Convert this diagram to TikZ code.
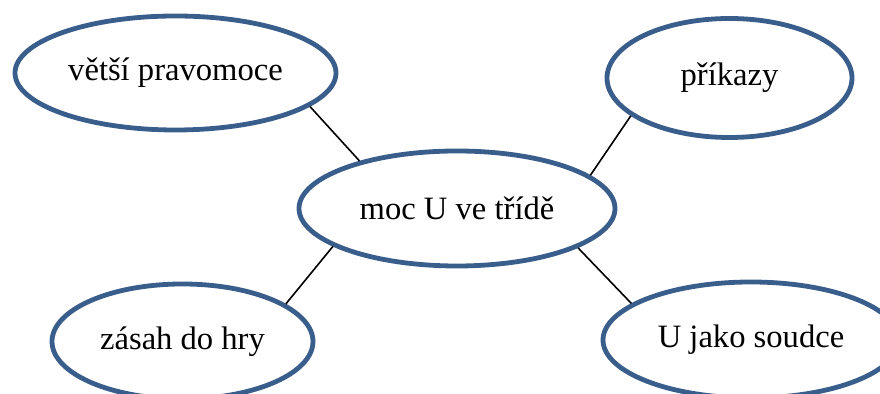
\documentclass[tikz,border=0pt]{standalone}
\usepackage{fontspec}
\setmainfont{Liberation Serif}
\usetikzlibrary{shapes.geometric}
\definecolor{ovalblue}{RGB}{58,94,140}
\tikzset{
  oval/.style={ellipse, draw=ovalblue, line width=2.4pt, inner sep=0pt, font=\fontsize{16.3}{19}\selectfont},
  link/.style={draw=black, line width=0.8pt}
}
\begin{document}
\begin{tikzpicture}[x=0.5pt,y=-0.5pt]
\useasboundingbox (0,0) rectangle (880,394);
\node[oval, minimum width=160.5pt, minimum height=57pt] (e1) at (175.5,73) {větší pravomoce\hspace{-3pt}};
\node[oval, minimum width=122.5pt, minimum height=59.5pt] (e2) at (729.5,78) {příkazy\hspace{9.5pt}};
\node[oval, minimum width=158pt, minimum height=57.5pt] (e3) at (457,208.5) {moc U ve třídě\hspace{3.5pt}};
\node[oval, minimum width=130.5pt, minimum height=57.5pt] (e4) at (182.5,341.5) {zásah do hry\hspace{-3.5pt}};
\node[oval, minimum width=148pt, minimum height=58pt] (e5) at (751,340) {U jako soudce};
\draw[link] (e1.-14) -- (e3.154.6);
\draw[link] (e2.201.5) -- (e3.14);
\draw[link] (e3.197.9) -- (e4.20.5);
\draw[link] (e3.-18.4) -- (e5.163.4);
\end{tikzpicture}
\end{document}
